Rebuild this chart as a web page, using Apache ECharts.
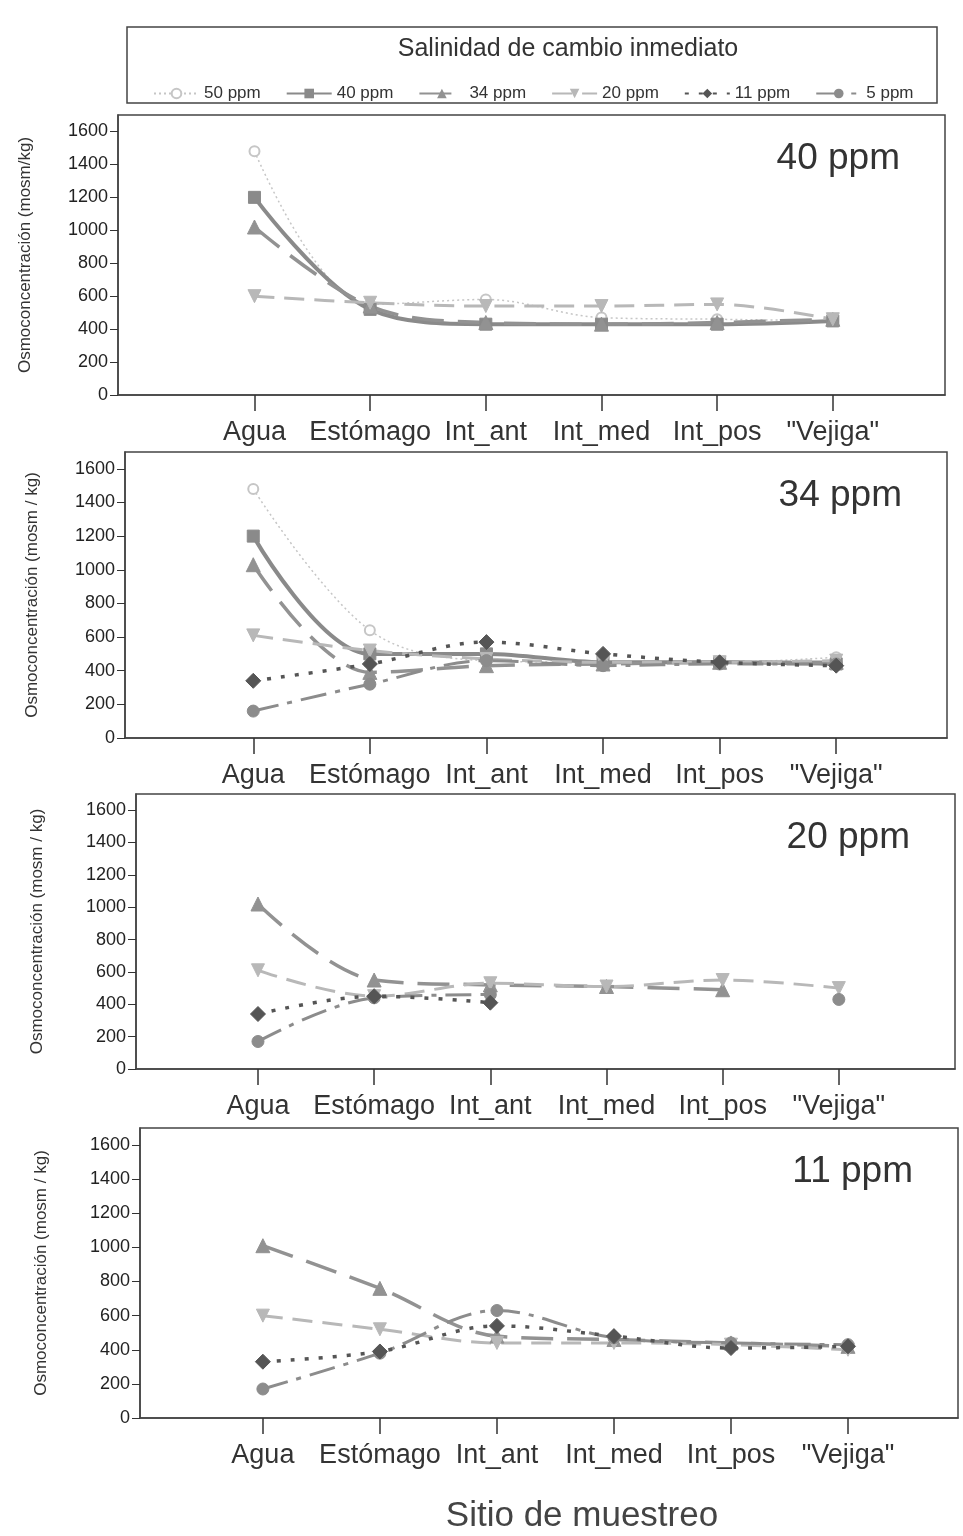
<!DOCTYPE html>
<html>
<head>
<meta charset="utf-8">
<script src="https://cdn.jsdelivr.net/npm/echarts@6/dist/echarts.min.js"></script>
<style>
  html, body { margin: 0; padding: 0; background: #fff; }
  #chart { width: 963px; height: 1536px; }
</style>
</head>
<body>
<div id="chart"></div>
<script>
// sitios de muestreo
const categories = ['Agua', 'Estómago', 'Int_ant', 'Int_med', 'Int_pos', '"Vejiga"'];
const yTicks = [0, 200, 400, 600, 800, 1000, 1200, 1400, 1600];

// panel 40 ppm (orden: 50, 40, 34, 20 ppm)
const panel40Names = ['50 ppm', '40 ppm', '34 ppm', '20 ppm'];
const panel40Values = [
  [1480, 550, 580, 470, 460, 450],
  [1200, 520, 430, 430, 430, 450],
  [1020, 540, 440, 430, 440, 460],
  [600, 560, 540, 540, 550, 460]
];

// panel 34 ppm
const panel34Names = ['50 ppm', '40 ppm', '34 ppm', '20 ppm', '11 ppm', '5 ppm'];
const panel34Values = [
  [1480, 640, 460, 450, 450, 480],
  [1200, 500, 500, 450, 450, 440],
  [1030, 390, 430, 440, 450, 450],
  [610, 520, 470, 450, 450, 460],
  [340, 440, 570, 500, 450, 430],
  [160, 320, 460, 430, 440, 440]
];

// panel 20 ppm
const panel20Names = ['34 ppm', '20 ppm', '11 ppm', '5 ppm'];
const panel20Values = [
  [1020, 550, 520, 510, 490, null],
  [610, 450, 530, 510, 550, 500],
  [340, 450, 410, null, null, null],
  [170, 440, 460, null, null, 430]
];

// panel 11 ppm
const panel11Names = ['34 ppm', '20 ppm', '11 ppm', '5 ppm'];
const panel11Values = [
  [1010, 760, 480, 460, 440, 420],
  [600, 520, 440, 440, 430, 400],
  [330, 390, 540, 480, 410, 420],
  [170, 380, 630, 470, 440, 430]
];

const styles = {
  '50 ppm': { color: '#c6c6c6', width: 1.5, type: [2, 3], symbol: 'emptyCircle', size: 10, rotate: 0 },
  '40 ppm': { color: '#8a8a8a', width: 4, type: 'solid', symbol: 'rect', size: 12, rotate: 0 },
  '34 ppm': { color: '#929292', width: 3.5, type: [32, 14], symbol: 'triangle', size: 14, rotate: 0 },
  '20 ppm': { color: '#b8b8b8', width: 3, type: [20, 10], symbol: 'triangle', size: 13, rotate: 180 },
  '11 ppm': { color: '#555555', width: 3.5, type: [4, 10], symbol: 'diamond', size: 15, rotate: 0 },
  '5 ppm': { color: '#8c8c8c', width: 3, type: [26, 9, 5, 9], symbol: 'circle', size: 12, rotate: 0 }
};

const panels = [
  { label: '40 ppm', names: panel40Names, values: panel40Values, yName: 'Osmoconcentración (mosm/kg)',
    left: 118, top: 115, width: 827, height: 280, xMin: -1.18, xMax: 5.97, nameGap: 84 },
  { label: '34 ppm', names: panel34Names, values: panel34Values, yName: 'Osmoconcentración (mosm / kg)',
    left: 125, top: 452, width: 822, height: 286, xMin: -1.10, xMax: 5.95, nameGap: 84 },
  { label: '20 ppm', names: panel20Names, values: panel20Values, yName: 'Osmoconcentración (mosm / kg)',
    left: 136, top: 794, width: 819, height: 275, xMin: -1.05, xMax: 6.0, nameGap: 90 },
  { label: '11 ppm', names: panel11Names, values: panel11Values, yName: 'Osmoconcentración (mosm / kg)',
    left: 140, top: 1128, width: 818, height: 290, xMin: -1.05, xMax: 5.94, nameGap: 90 }
];

const font = 'Liberation Sans, Arial, sans-serif';
const grid = [], xAxis = [], yAxis = [], series = [];
const title = [
  { text: 'Salinidad de cambio inmediato', left: 563, top: 32, textAlign: 'center',
    textStyle: { fontFamily: font, fontSize: 25, fontWeight: 'normal', color: '#333' } },
  { text: 'Sitio de muestreo', left: 577, top: 1494, textAlign: 'center',
    textStyle: { fontFamily: font, fontSize: 35, fontWeight: 'normal', color: '#444' } }
];

panels.forEach((p, k) => {
  grid.push({ left: p.left, top: p.top, width: p.width, height: p.height,
    show: true, borderColor: '#444', borderWidth: 1.5, backgroundColor: 'transparent' });
  xAxis.push({
    gridIndex: k, type: 'value', min: p.xMin, max: p.xMax,
    axisLine: { onZero: false, lineStyle: { color: '#444', width: 1.5 } },
    axisTick: { customValues: [0, 1, 2, 3, 4, 5], length: 16, lineStyle: { color: '#333', width: 1.5 } },
    axisLabel: { customValues: [0, 1, 2, 3, 4, 5], formatter: v => categories[Math.round(v)],
      margin: 24, fontFamily: font, fontSize: 27, color: '#333' },
    splitLine: { show: false }
  });
  yAxis.push({
    gridIndex: k, type: 'value', min: 0, max: 1700,
    name: p.yName, nameLocation: 'middle', nameGap: p.nameGap,
    nameTextStyle: { fontFamily: font, fontSize: 17, color: '#333' },
    axisLine: { show: true, onZero: false, lineStyle: { color: '#444', width: 1.5 } },
    axisTick: { show: true, customValues: yTicks, length: 8, lineStyle: { color: '#333' } },
    axisLabel: { customValues: yTicks, formatter: v => String(v), margin: 10,
      fontFamily: font, fontSize: 18, color: '#222' },
    splitLine: { show: false }
  });
  title.push({ text: p.label, right: 963 - p.left - p.width + 40, top: p.top + 20,
    textStyle: { fontFamily: font, fontSize: 37, fontWeight: 'normal', color: '#333' } });
  p.names.forEach((name, j) => {
    const s = styles[name];
    series.push({
      name: name, type: 'line', xAxisIndex: k, yAxisIndex: k, smooth: 0.35,
      data: p.values[j].map((v, i) => [i, v === null ? '-' : v]),
      symbol: s.symbol, symbolSize: s.size, symbolRotate: s.rotate,
      lineStyle: { color: s.color, width: s.width, type: s.type },
      itemStyle: { color: s.color, borderColor: s.color },
      z: name === '11 ppm' ? 4 : 3
    });
  });
});

const chart = echarts.init(document.getElementById('chart'));
chart.setOption({
  backgroundColor: '#fff',
  animation: false,
  title: title,
  legend: {
    data: ['50 ppm', '40 ppm', '34 ppm', '20 ppm', '11 ppm', '5 ppm'],
    left: 148, top: 80, itemWidth: 45, itemHeight: 12, itemGap: 25,
    textStyle: { fontFamily: font, fontSize: 17, color: '#333' }
  },
  graphic: [{
    type: 'rect', shape: { x: 127, y: 27, width: 810, height: 76 },
    style: { fill: 'none', stroke: '#444', lineWidth: 1.5 }
  }],
  grid: grid,
  xAxis: xAxis,
  yAxis: yAxis,
  series: series
});
</script>
</body>
</html>
